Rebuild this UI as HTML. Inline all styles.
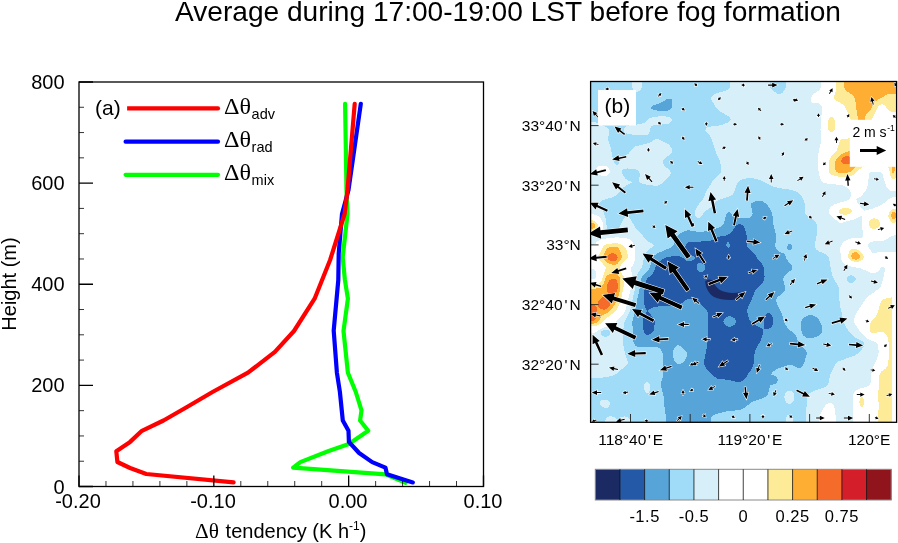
<!DOCTYPE html>
<html><head><meta charset="utf-8"><title>fig</title>
<style>html,body{margin:0;padding:0;background:#fff;overflow:hidden}svg{display:block;will-change:transform}text{fill:#000}</style></head>
<body><svg width="898" height="543" viewBox="0 0 898 543">
<defs><clipPath id="mc"><rect x="590.6" y="81.5" width="306.0" height="340.8"/></clipPath></defs>
<rect width="898" height="543" fill="#fff"/>
<g><polyline points="345.1,103.8 346.5,190.0 347.5,214.0 342.7,257.3 344.9,280.0 347.9,298.7 343.5,331.0 347.9,372.7 355.8,392.0 361.5,410.4 360.1,420.5 368.2,430.7 348.9,443.9 328.7,451.0 300.3,462.1 293.2,467.6 385.4,474.3 405.7,482.8" fill="none" stroke="#00ff00" stroke-width="4.2" stroke-linejoin="round" stroke-linecap="round"/>
<polyline points="360.8,103.8 348.5,190.0 342.0,214.0 338.7,253.7 338.3,280.0 333.7,330.6 336.9,372.7 339.9,392.0 342.8,420.5 348.5,430.7 348.9,441.8 359.1,453.0 372.2,462.1 385.4,467.6 387.0,474.3 412.8,482.4" fill="none" stroke="#0000ff" stroke-width="4.2" stroke-linejoin="round" stroke-linecap="round"/>
<polyline points="354.7,103.8 347.5,190.0 344.6,214.0 330.1,260.0 314.6,298.7 294.0,331.0 274.9,351.9 248.0,372.7 212.5,392.0 187.0,407.0 163.5,420.5 141.9,430.8 130.1,441.9 116.3,451.3 117.4,462.0 130.1,468.0 146.3,474.0 233.6,482.4" fill="none" stroke="#ff0000" stroke-width="4.2" stroke-linejoin="round" stroke-linecap="round"/>
<path d="M125.6 108.4H218" stroke="#ff0000" stroke-width="4.2" stroke-linecap="round" fill="none"/>
<rect x="87.8" y="91.4" width="39.3" height="35.6" fill="#fff"/>
<path d="M125.6 141.7H218" stroke="#0000ff" stroke-width="4.2" stroke-linecap="round" fill="none"/>
<path d="M125.6 174.8H218" stroke="#00ff00" stroke-width="4.2" stroke-linecap="round" fill="none"/>
<rect x="79.0" y="82.0" width="404.5" height="404.5" fill="none" stroke="#000" stroke-width="1.3"/>
<path d="M79.0 486.50h14M79.0 385.38h14M79.0 284.25h14M79.0 183.12h14M79.0 82.00h14M79.00 486.5v-11M213.83 486.5v-11M348.67 486.5v-11M483.50 486.5v-11" stroke="#000" stroke-width="1.3" fill="none"/>
<path d="M79.0 461.22h5M79.0 435.94h5M79.0 410.66h5M79.0 360.09h5M79.0 334.81h5M79.0 309.53h5M79.0 258.97h5M79.0 233.69h5M79.0 208.41h5M79.0 157.84h5M79.0 132.56h5M79.0 107.28h5M105.97 486.5v-5.5M132.93 486.5v-5.5M159.90 486.5v-5.5M186.87 486.5v-5.5M240.80 486.5v-5.5M267.77 486.5v-5.5M294.73 486.5v-5.5M321.70 486.5v-5.5M375.63 486.5v-5.5M402.60 486.5v-5.5M429.57 486.5v-5.5M456.53 486.5v-5.5" stroke="#000" stroke-width="0.8" fill="none"/>
<text x="64.6" y="88.7" text-anchor="end" font-size="20" font-family="Liberation Sans, sans-serif">800</text>
<text x="64.6" y="189.9" text-anchor="end" font-size="20" font-family="Liberation Sans, sans-serif">600</text>
<text x="64.6" y="291.2" text-anchor="end" font-size="20" font-family="Liberation Sans, sans-serif">400</text>
<text x="64.6" y="392.4" text-anchor="end" font-size="20" font-family="Liberation Sans, sans-serif">200</text>
<text x="64.6" y="493.7" text-anchor="end" font-size="20" font-family="Liberation Sans, sans-serif">0</text>
<text x="78.0" y="508.2" text-anchor="middle" font-size="20" font-family="Liberation Sans, sans-serif">-0.20</text>
<text x="213.0" y="508.2" text-anchor="middle" font-size="20" font-family="Liberation Sans, sans-serif">-0.10</text>
<text x="348.0" y="508.2" text-anchor="middle" font-size="20" font-family="Liberation Sans, sans-serif">0.00</text>
<text x="483.0" y="508.2" text-anchor="middle" font-size="20" font-family="Liberation Sans, sans-serif">0.10</text>
<text transform="translate(16.3 284) rotate(-90)" text-anchor="middle" font-size="20" font-family="Liberation Sans, sans-serif">Height (m)</text>
<text x="195" y="538" font-size="21" textLength="24" lengthAdjust="spacingAndGlyphs" font-family="Liberation Serif, serif">Δθ</text><text x="225.6" y="538" font-size="20" font-family="Liberation Sans, sans-serif">tendency (K h<tspan font-size="12" dy="-8">-1</tspan><tspan dy="8">)</tspan></text>
<text x="95" y="115" font-size="21" font-family="Liberation Sans, sans-serif">(a)</text>
<text x="224" y="114.4" font-size="22.5" textLength="27" lengthAdjust="spacingAndGlyphs" font-family="Liberation Serif, serif">Δθ</text>
<text x="251.6" y="119.0" font-size="14.5" font-family="Liberation Sans, sans-serif">adv</text>
<text x="224" y="147.4" font-size="22.5" textLength="27" lengthAdjust="spacingAndGlyphs" font-family="Liberation Serif, serif">Δθ</text>
<text x="251.6" y="152.0" font-size="14.5" font-family="Liberation Sans, sans-serif">rad</text>
<text x="224" y="180.4" font-size="22.5" textLength="27" lengthAdjust="spacingAndGlyphs" font-family="Liberation Serif, serif">Δθ</text>
<text x="251.6" y="185.0" font-size="14.5" font-family="Liberation Sans, sans-serif">mix</text>
<text x="175" y="21.3" font-size="28" textLength="666" lengthAdjust="spacingAndGlyphs" font-family="Liberation Sans, sans-serif">Average during 17:00-19:00 LST before fog formation</text></g>
<g clip-path="url(#mc)"><g transform="translate(591 82)" shape-rendering="crispEdges" stroke-width="1" fill="none"><rect x="0" y="0" width="306" height="341" fill="#a0dcf7"/>
<path stroke="#2459a8" d="M147 142.5h3M145 143.5h7M144 144.5h9M144 145.5h9M143 146.5h11M142 147.5h12M142 148.5h12M141 149.5h14M140 150.5h15M139 151.5h16M137 152.5h18M135 153.5h21M129 154.5h27M126 155.5h30M125 156.5h31M123 157.5h33M120 158.5h36M110 159.5h46M97 160.5h39M138 160.5h18M96 161.5h40M138 161.5h18M95 162.5h40M139 162.5h17M95 163.5h40M139 163.5h17M94 164.5h42M139 164.5h17M94 165.5h43M138 165.5h19M94 166.5h64M94 167.5h65M95 168.5h65M95 169.5h66M96 170.5h66M97 171.5h66M99 172.5h65M101 173.5h64M80 174.5h9M103 174.5h62M75 175.5h16M104 175.5h62M73 176.5h20M104 176.5h62M71 177.5h23M103 177.5h64M70 178.5h25M101 178.5h67M68 179.5h101M67 180.5h103M66 181.5h41M111 181.5h60M66 182.5h40M113 182.5h58M65 183.5h41M114 183.5h58M65 184.5h41M114 184.5h58M64 185.5h42M114 185.5h59M64 186.5h42M114 186.5h59M64 187.5h42M114 187.5h59M63 188.5h44M113 188.5h60M63 189.5h45M112 189.5h61M62 190.5h111M62 191.5h111M61 192.5h112M60 193.5h113M59 194.5h115M57 195.5h116M56 196.5h117M56 197.5h117M55 198.5h118M55 199.5h117M55 200.5h117M55 201.5h116M54 202.5h116M54 203.5h115M54 204.5h114M54 205.5h113M54 206.5h112M54 207.5h111M53 208.5h111M53 209.5h111M53 210.5h110M53 211.5h110M53 212.5h110M53 213.5h109M53 214.5h109M53 215.5h108M53 216.5h108M53 217.5h43M103 217.5h58M53 218.5h41M106 218.5h54M53 219.5h40M107 219.5h53M53 220.5h39M108 220.5h51M53 221.5h37M109 221.5h50M53 222.5h34M110 222.5h48M54 223.5h29M111 223.5h47M54 224.5h13M112 224.5h45M54 225.5h8M113 225.5h44M55 226.5h5M114 226.5h43M55 227.5h3M115 227.5h41M56 228.5h1M116 228.5h40M56 229.5h1M116 229.5h40M55 230.5h3M117 230.5h39M55 231.5h4M117 231.5h40M176 231.5h3M54 232.5h6M117 232.5h40M175 232.5h5M54 233.5h6M117 233.5h40M174 233.5h7M53 234.5h8M117 234.5h20M140 234.5h17M174 234.5h7M53 235.5h9M117 235.5h18M142 235.5h16M173 235.5h9M52 236.5h10M117 236.5h17M144 236.5h14M173 236.5h9M52 237.5h11M117 237.5h16M144 237.5h14M173 237.5h9M52 238.5h12M117 238.5h16M145 238.5h14M173 238.5h9M52 239.5h12M117 239.5h15M145 239.5h15M173 239.5h9M52 240.5h12M117 240.5h16M145 240.5h16M173 240.5h9M52 241.5h12M117 241.5h16M144 241.5h18M173 241.5h9M52 242.5h12M117 242.5h17M144 242.5h20M173 242.5h9M52 243.5h11M117 243.5h18M142 243.5h23M173 243.5h8M52 244.5h11M117 244.5h20M140 244.5h27M173 244.5h8M52 245.5h11M117 245.5h52M173 245.5h7M52 246.5h11M117 246.5h54M173 246.5h5M52 247.5h11M117 247.5h55M53 248.5h10M117 248.5h55M53 249.5h9M117 249.5h55M53 250.5h8M117 250.5h55M54 251.5h6M117 251.5h55M55 252.5h3M117 252.5h55M117 253.5h54M117 254.5h54M117 255.5h54M117 256.5h53M117 257.5h53M117 258.5h53M117 259.5h52M116 260.5h53M116 261.5h52M116 262.5h51M116 263.5h51M116 264.5h50M116 265.5h50M116 266.5h49M115 267.5h50M115 268.5h49M115 269.5h49M115 270.5h49M115 271.5h49M114 272.5h49M114 273.5h49M114 274.5h49M114 275.5h49M114 276.5h49M113 277.5h50M113 278.5h50M113 279.5h50M113 280.5h50M113 281.5h50M113 282.5h49M114 283.5h48M114 284.5h48M115 285.5h46M115 286.5h46M116 287.5h44M117 288.5h43M118 289.5h41M119 290.5h39M120 291.5h37M121 292.5h36M122 293.5h34M123 294.5h33M125 295.5h30M126 296.5h28M134 297.5h19M140 298.5h12M144 299.5h6"/>
<path stroke="#57a4d8" d="M75 17.5h6M74 18.5h7M72 19.5h9M70 20.5h11M68 21.5h13M65 22.5h16M62 23.5h19M61 24.5h20M60 25.5h21M60 26.5h20M62 27.5h17M66 28.5h11M164 119.5h8M162 120.5h11M160 121.5h15M160 122.5h16M160 123.5h17M160 124.5h17M160 125.5h18M161 126.5h18M161 127.5h18M161 128.5h19M161 129.5h19M137 130.5h2M161 130.5h20M136 131.5h4M162 131.5h19M135 132.5h6M161 132.5h20M135 133.5h7M161 133.5h20M135 134.5h8M160 134.5h22M134 135.5h13M159 135.5h23M134 136.5h48M134 137.5h48M134 138.5h48M133 139.5h49M133 140.5h49M133 141.5h49M132 142.5h15M150 142.5h32M131 143.5h14M152 143.5h31M130 144.5h14M153 144.5h30M128 145.5h16M153 145.5h30M125 146.5h18M154 146.5h29M122 147.5h20M154 147.5h30M96 148.5h3M119 148.5h23M154 148.5h30M93 149.5h12M113 149.5h28M155 149.5h29M91 150.5h49M155 150.5h29M89 151.5h50M155 151.5h30M88 152.5h49M155 152.5h30M87 153.5h48M156 153.5h29M86 154.5h43M156 154.5h29M85 155.5h41M156 155.5h29M85 156.5h40M156 156.5h29M84 157.5h39M156 157.5h29M84 158.5h36M156 158.5h29M84 159.5h26M156 159.5h29M83 160.5h14M136 160.5h2M156 160.5h29M83 161.5h13M136 161.5h2M156 161.5h28M83 162.5h12M135 162.5h4M156 162.5h28M197 162.5h3M82 163.5h13M135 163.5h4M156 163.5h28M197 163.5h4M81 164.5h13M136 164.5h3M156 164.5h28M196 164.5h5M80 165.5h14M137 165.5h1M157 165.5h28M196 165.5h5M78 166.5h16M158 166.5h27M196 166.5h5M75 167.5h19M159 167.5h27M197 167.5h3M73 168.5h22M160 168.5h27M71 169.5h24M161 169.5h27M68 170.5h28M162 170.5h28M66 171.5h31M163 171.5h30M65 172.5h34M164 172.5h30M63 173.5h38M165 173.5h29M63 174.5h17M89 174.5h14M165 174.5h30M62 175.5h13M91 175.5h13M166 175.5h29M61 176.5h12M93 176.5h11M166 176.5h29M61 177.5h10M94 177.5h9M167 177.5h29M61 178.5h9M95 178.5h6M168 178.5h29M60 179.5h8M169 179.5h28M60 180.5h7M170 180.5h28M60 181.5h6M107 181.5h4M171 181.5h28M60 182.5h6M106 182.5h7M171 182.5h29M59 183.5h6M106 183.5h8M172 183.5h29M59 184.5h6M106 184.5h8M172 184.5h29M59 185.5h5M106 185.5h8M173 185.5h28M58 186.5h6M106 186.5h8M173 186.5h28M58 187.5h6M106 187.5h8M173 187.5h28M57 188.5h6M107 188.5h6M173 188.5h27M56 189.5h7M108 189.5h4M173 189.5h25M55 190.5h7M173 190.5h24M54 191.5h8M173 191.5h23M53 192.5h8M173 192.5h22M52 193.5h8M173 193.5h21M51 194.5h8M174 194.5h19M51 195.5h6M173 195.5h20M50 196.5h6M173 196.5h19M50 197.5h6M173 197.5h19M50 198.5h5M173 198.5h19M50 199.5h5M172 199.5h21M49 200.5h6M172 200.5h21M49 201.5h6M171 201.5h22M49 202.5h5M170 202.5h23M49 203.5h5M169 203.5h25M49 204.5h5M168 204.5h26M49 205.5h5M167 205.5h27M49 206.5h5M166 206.5h28M48 207.5h6M165 207.5h29M48 208.5h5M164 208.5h30M48 209.5h5M164 209.5h29M48 210.5h5M163 210.5h29M48 211.5h5M163 211.5h28M47 212.5h6M163 212.5h27M47 213.5h6M162 213.5h27M47 214.5h6M162 214.5h25M47 215.5h6M161 215.5h25M46 216.5h7M161 216.5h25M46 217.5h7M96 217.5h7M161 217.5h24M46 218.5h7M94 218.5h12M160 218.5h25M46 219.5h7M93 219.5h14M160 219.5h25M46 220.5h7M92 220.5h16M159 220.5h27M45 221.5h8M90 221.5h19M159 221.5h27M45 222.5h8M87 222.5h23M158 222.5h28M45 223.5h9M83 223.5h28M158 223.5h29M45 224.5h9M67 224.5h45M157 224.5h30M45 225.5h9M62 225.5h51M157 225.5h31M44 226.5h11M60 226.5h54M157 226.5h31M44 227.5h11M58 227.5h57M156 227.5h33M44 228.5h12M57 228.5h59M156 228.5h33M44 229.5h12M57 229.5h59M156 229.5h34M44 230.5h11M58 230.5h59M156 230.5h34M43 231.5h12M59 231.5h58M157 231.5h19M179 231.5h12M43 232.5h11M60 232.5h57M157 232.5h18M180 232.5h11M43 233.5h11M60 233.5h57M157 233.5h17M181 233.5h10M217 233.5h5M43 234.5h10M61 234.5h56M137 234.5h3M157 234.5h17M181 234.5h11M215 234.5h9M42 235.5h11M62 235.5h55M135 235.5h7M158 235.5h15M182 235.5h10M213 235.5h13M42 236.5h10M62 236.5h55M134 236.5h10M158 236.5h15M182 236.5h10M212 236.5h15M42 237.5h10M63 237.5h54M133 237.5h11M158 237.5h15M182 237.5h10M211 237.5h17M42 238.5h10M64 238.5h53M133 238.5h12M159 238.5h14M182 238.5h11M211 238.5h17M41 239.5h11M64 239.5h53M132 239.5h13M160 239.5h13M182 239.5h11M210 239.5h19M41 240.5h11M64 240.5h53M133 240.5h12M161 240.5h12M182 240.5h11M210 240.5h19M41 241.5h11M64 241.5h53M133 241.5h11M162 241.5h11M182 241.5h12M210 241.5h20M41 242.5h11M64 242.5h53M134 242.5h10M164 242.5h9M182 242.5h12M210 242.5h20M41 243.5h11M63 243.5h54M135 243.5h7M165 243.5h8M181 243.5h14M210 243.5h21M42 244.5h10M63 244.5h54M137 244.5h3M167 244.5h6M181 244.5h15M210 244.5h21M42 245.5h10M63 245.5h54M169 245.5h4M180 245.5h16M210 245.5h21M42 246.5h10M63 246.5h54M171 246.5h2M178 246.5h19M210 246.5h21M42 247.5h10M63 247.5h54M172 247.5h26M210 247.5h21M42 248.5h11M63 248.5h54M172 248.5h27M210 248.5h21M42 249.5h11M62 249.5h55M172 249.5h29M211 249.5h20M42 250.5h11M61 250.5h56M172 250.5h30M211 250.5h20M42 251.5h12M60 251.5h57M172 251.5h31M211 251.5h19M42 252.5h13M58 252.5h59M172 252.5h32M212 252.5h17M42 253.5h75M171 253.5h34M212 253.5h16M42 254.5h75M171 254.5h34M214 254.5h12M42 255.5h75M171 255.5h35M215 255.5h8M42 256.5h75M170 256.5h36M42 257.5h75M170 257.5h36M42 258.5h75M170 258.5h37M42 259.5h75M169 259.5h38M43 260.5h73M169 260.5h38M43 261.5h73M168 261.5h40M44 262.5h72M167 262.5h42M44 263.5h42M88 263.5h28M167 263.5h43M46 264.5h39M90 264.5h26M166 264.5h45M67 265.5h17M91 265.5h25M166 265.5h46M69 266.5h14M92 266.5h24M165 266.5h48M70 267.5h13M93 267.5h22M165 267.5h49M70 268.5h12M94 268.5h21M164 268.5h51M71 269.5h11M95 269.5h20M164 269.5h51M71 270.5h11M96 270.5h19M164 270.5h52M72 271.5h10M96 271.5h19M164 271.5h52M72 272.5h10M96 272.5h18M163 272.5h53M72 273.5h10M96 273.5h18M163 273.5h52M72 274.5h10M96 274.5h18M163 274.5h52M72 275.5h10M95 275.5h19M163 275.5h52M72 276.5h11M95 276.5h19M163 276.5h51M72 277.5h11M94 277.5h19M163 277.5h51M72 278.5h11M94 278.5h19M163 278.5h51M72 279.5h12M93 279.5h20M163 279.5h51M72 280.5h13M92 280.5h21M163 280.5h50M72 281.5h14M90 281.5h23M163 281.5h50M72 282.5h41M162 282.5h50M72 283.5h42M162 283.5h34M202 283.5h10M72 284.5h42M162 284.5h31M204 284.5h7M72 285.5h43M161 285.5h29M206 285.5h4M72 286.5h43M161 286.5h26M72 287.5h44M160 287.5h25M72 288.5h45M160 288.5h24M72 289.5h46M159 289.5h23M72 290.5h47M158 290.5h23M72 291.5h48M157 291.5h24M72 292.5h49M157 292.5h23M72 293.5h50M156 293.5h27M72 294.5h51M156 294.5h29M72 295.5h53M155 295.5h31M71 296.5h55M154 296.5h32M71 297.5h63M153 297.5h34M71 298.5h69M152 298.5h35M70 299.5h74M150 299.5h36M70 300.5h116M70 301.5h115M70 302.5h112M70 303.5h109M70 304.5h109M70 305.5h109M71 306.5h107M71 307.5h107M71 308.5h107M71 309.5h107M72 310.5h105M72 311.5h105M72 312.5h105M72 313.5h104M73 314.5h102M73 315.5h100M73 316.5h98M73 317.5h95M73 318.5h92M73 319.5h89M73 320.5h87M73 321.5h86M73 322.5h85M73 323.5h83M73 324.5h82M74 325.5h80M74 326.5h78M74 327.5h76M74 328.5h70M74 329.5h61M74 330.5h57M74 331.5h53M75 332.5h49M75 333.5h47M75 334.5h46M75 335.5h45M75 336.5h45M75 337.5h45M75 338.5h45M75 339.5h45M75 340.5h45"/>
<path stroke="#d6eff9" d="M41 0.5h10M139 0.5h40M195 0.5h35M41 1.5h10M139 1.5h40M195 1.5h35M41 2.5h10M139 2.5h40M195 2.5h35M41 3.5h10M139 3.5h40M195 3.5h35M41 4.5h10M139 4.5h40M195 4.5h35M41 5.5h10M139 5.5h40M195 5.5h35M42 6.5h8M138 6.5h42M194 6.5h35M42 7.5h8M137 7.5h44M194 7.5h35M43 8.5h6M135 8.5h47M193 8.5h35M44 9.5h3M132 9.5h51M192 9.5h34M128 10.5h57M192 10.5h33M125 11.5h61M190 11.5h33M123 12.5h99M122 13.5h99M121 14.5h100M120 15.5h100M120 16.5h100M120 17.5h100M121 18.5h99M121 19.5h99M122 20.5h99M123 21.5h105M123 22.5h106M124 23.5h106M124 24.5h107M125 25.5h106M126 26.5h105M127 27.5h104M128 28.5h103M129 29.5h102M131 30.5h100M133 31.5h98M134 32.5h97M136 33.5h94M67 34.5h8M138 34.5h92M61 35.5h18M139 35.5h91M58 36.5h22M139 36.5h91M57 37.5h24M140 37.5h90M56 38.5h25M139 38.5h91M55 39.5h25M138 39.5h92M0 40.5h5M54 40.5h25M137 40.5h93M0 41.5h8M51 41.5h27M134 41.5h96M0 42.5h10M46 42.5h24M132 42.5h98M0 43.5h12M38 43.5h24M128 43.5h102M0 44.5h14M35 44.5h25M120 44.5h110M0 45.5h16M34 45.5h26M116 45.5h114M0 46.5h17M33 46.5h26M115 46.5h115M0 47.5h18M33 47.5h26M115 47.5h114M0 48.5h18M33 48.5h26M114 48.5h116M0 49.5h18M33 49.5h26M115 49.5h115M0 50.5h18M34 50.5h24M116 50.5h114M0 51.5h18M36 51.5h22M117 51.5h113M0 52.5h18M41 52.5h16M118 52.5h112M0 53.5h18M119 53.5h111M0 54.5h17M119 54.5h111M0 55.5h17M120 55.5h110M0 56.5h17M120 56.5h110M0 57.5h17M64 57.5h4M121 57.5h109M0 58.5h17M62 58.5h8M121 58.5h109M0 59.5h18M61 59.5h11M121 59.5h109M0 60.5h18M59 60.5h15M122 60.5h108M0 61.5h18M56 61.5h20M122 61.5h108M0 62.5h19M52 62.5h26M122 62.5h107M0 63.5h19M48 63.5h31M123 63.5h106M0 64.5h19M44 64.5h35M123 64.5h106M0 65.5h20M43 65.5h37M123 65.5h106M0 66.5h20M42 66.5h39M124 66.5h104M0 67.5h20M41 67.5h40M124 67.5h104M0 68.5h20M40 68.5h41M124 68.5h104M0 69.5h20M39 69.5h42M125 69.5h103M0 70.5h21M38 70.5h43M125 70.5h103M0 71.5h21M38 71.5h42M125 71.5h102M0 72.5h21M36 72.5h43M126 72.5h101M0 73.5h21M35 73.5h43M126 73.5h101M0 74.5h21M33 74.5h43M127 74.5h100M0 75.5h22M32 75.5h43M127 75.5h100M0 76.5h22M31 76.5h43M128 76.5h99M0 77.5h22M30 77.5h43M128 77.5h99M0 78.5h22M29 78.5h43M129 78.5h98M0 79.5h23M29 79.5h43M129 79.5h98M0 80.5h23M28 80.5h44M129 80.5h98M0 81.5h24M28 81.5h44M129 81.5h98M0 82.5h25M27 82.5h46M130 82.5h97M0 83.5h73M130 83.5h97M0 84.5h7M16 84.5h58M130 84.5h97M0 85.5h6M17 85.5h58M130 85.5h97M0 86.5h5M18 86.5h18M37 86.5h40M130 86.5h97M0 87.5h5M18 87.5h14M45 87.5h33M130 87.5h97M0 88.5h5M19 88.5h12M47 88.5h32M130 88.5h97M0 89.5h5M19 89.5h12M48 89.5h31M130 89.5h98M0 90.5h5M19 90.5h12M48 90.5h32M130 90.5h98M279 90.5h11M0 91.5h6M18 91.5h13M49 91.5h31M129 91.5h99M278 91.5h13M0 92.5h8M17 92.5h15M49 92.5h30M128 92.5h100M278 92.5h14M0 93.5h10M16 93.5h16M49 93.5h30M127 93.5h101M278 93.5h14M0 94.5h33M49 94.5h29M126 94.5h103M278 94.5h14M0 95.5h34M48 95.5h29M125 95.5h104M278 95.5h14M0 96.5h34M48 96.5h28M124 96.5h31M163 96.5h66M278 96.5h15M0 97.5h36M48 97.5h27M123 97.5h28M167 97.5h63M277 97.5h16M0 98.5h37M48 98.5h26M122 98.5h27M170 98.5h60M277 98.5h16M0 99.5h40M48 99.5h25M121 99.5h27M172 99.5h59M277 99.5h17M0 100.5h41M49 100.5h23M121 100.5h26M174 100.5h58M277 100.5h17M0 101.5h39M51 101.5h20M120 101.5h26M176 101.5h60M277 101.5h17M0 102.5h37M55 102.5h14M120 102.5h26M178 102.5h67M277 102.5h18M0 103.5h35M62 103.5h5M119 103.5h26M180 103.5h72M277 103.5h18M0 104.5h34M118 104.5h27M182 104.5h72M276 104.5h19M0 105.5h32M118 105.5h27M186 105.5h70M276 105.5h20M0 106.5h31M117 106.5h27M191 106.5h66M276 106.5h21M0 107.5h30M116 107.5h28M198 107.5h60M275 107.5h23M0 108.5h30M116 108.5h28M202 108.5h57M275 108.5h24M0 109.5h29M115 109.5h28M205 109.5h54M274 109.5h32M0 110.5h28M115 110.5h28M207 110.5h53M273 110.5h33M0 111.5h27M114 111.5h28M208 111.5h52M272 111.5h34M0 112.5h26M114 112.5h28M209 112.5h51M272 112.5h34M0 113.5h25M114 113.5h26M210 113.5h50M271 113.5h35M0 114.5h23M113 114.5h25M211 114.5h49M270 114.5h36M0 115.5h21M113 115.5h22M211 115.5h48M268 115.5h33M0 116.5h17M112 116.5h20M212 116.5h47M266 116.5h33M0 117.5h14M112 117.5h17M212 117.5h46M265 117.5h32M0 118.5h11M111 118.5h16M213 118.5h43M266 118.5h30M0 119.5h10M110 119.5h15M213 119.5h40M266 119.5h29M0 120.5h9M109 120.5h15M213 120.5h36M266 120.5h28M0 121.5h8M108 121.5h15M214 121.5h32M267 121.5h25M0 122.5h8M108 122.5h14M214 122.5h29M268 122.5h23M0 123.5h8M107 123.5h14M214 123.5h28M269 123.5h20M0 124.5h9M106 124.5h15M214 124.5h26M269 124.5h18M0 125.5h10M106 125.5h14M214 125.5h25M270 125.5h14M0 126.5h10M105 126.5h13M214 126.5h25M271 126.5h11M0 127.5h11M105 127.5h12M214 127.5h24M272 127.5h6M0 128.5h12M104 128.5h11M214 128.5h24M273 128.5h1M0 129.5h12M104 129.5h10M214 129.5h24M0 130.5h13M104 130.5h9M214 130.5h24M0 131.5h13M104 131.5h8M214 131.5h24M3 132.5h10M104 132.5h8M215 132.5h24M6 133.5h8M104 133.5h7M216 133.5h24M8 134.5h6M35 134.5h2M105 134.5h5M217 134.5h24M269 134.5h2M9 135.5h5M34 135.5h4M106 135.5h3M218 135.5h24M267 135.5h4M10 136.5h5M33 136.5h6M220 136.5h23M265 136.5h6M10 137.5h5M32 137.5h8M222 137.5h22M263 137.5h8M11 138.5h4M32 138.5h8M223 138.5h23M259 138.5h12M11 139.5h4M31 139.5h10M224 139.5h23M255 139.5h16M12 140.5h3M31 140.5h10M225 140.5h23M252 140.5h19M12 141.5h3M30 141.5h12M225 141.5h46M12 142.5h3M30 142.5h13M226 142.5h45M12 143.5h4M29 143.5h14M226 143.5h45M12 144.5h4M29 144.5h15M226 144.5h45M12 145.5h4M28 145.5h16M226 145.5h45M12 146.5h4M27 146.5h18M226 146.5h45M11 147.5h5M24 147.5h22M226 147.5h45M11 148.5h6M19 148.5h28M226 148.5h46M10 149.5h38M226 149.5h46M9 150.5h40M226 150.5h46M8 151.5h42M226 151.5h46M6 152.5h45M226 152.5h46M3 153.5h49M226 153.5h46M303 153.5h3M0 154.5h52M225 154.5h47M300 154.5h6M0 155.5h24M28 155.5h25M225 155.5h46M298 155.5h8M0 156.5h15M36 156.5h18M225 156.5h35M297 156.5h9M0 157.5h10M39 157.5h16M225 157.5h32M295 157.5h11M0 158.5h8M40 158.5h16M225 158.5h30M293 158.5h13M0 159.5h6M41 159.5h16M224 159.5h29M282 159.5h24M0 160.5h5M42 160.5h17M224 160.5h28M279 160.5h27M0 161.5h5M42 161.5h19M224 161.5h27M278 161.5h28M0 162.5h3M43 162.5h19M224 162.5h27M277 162.5h29M43 163.5h20M224 163.5h26M277 163.5h29M44 164.5h18M224 164.5h26M277 164.5h29M44 165.5h17M224 165.5h25M278 165.5h28M44 166.5h15M225 166.5h24M278 166.5h28M44 167.5h14M225 167.5h24M279 167.5h27M44 168.5h13M227 168.5h22M280 168.5h26M44 169.5h12M228 169.5h21M280 169.5h26M44 170.5h11M231 170.5h18M281 170.5h5M44 171.5h11M233 171.5h17M44 172.5h10M235 172.5h15M44 173.5h10M236 173.5h14M44 174.5h10M237 174.5h13M44 175.5h9M238 175.5h12M44 176.5h9M238 176.5h12M44 177.5h9M238 177.5h12M44 178.5h8M238 178.5h13M43 179.5h9M239 179.5h12M43 180.5h9M239 180.5h13M43 181.5h9M239 181.5h14M42 182.5h10M239 182.5h15M42 183.5h9M239 183.5h17M41 184.5h10M239 184.5h21M40 185.5h11M240 185.5h25M290 185.5h3M40 186.5h10M240 186.5h30M289 186.5h5M0 187.5h3M40 187.5h9M240 187.5h32M289 187.5h5M0 188.5h4M40 188.5h9M240 188.5h35M288 188.5h6M0 189.5h5M40 189.5h8M240 189.5h37M287 189.5h7M0 190.5h5M41 190.5h6M241 190.5h38M285 190.5h8M0 191.5h5M41 191.5h6M241 191.5h52M0 192.5h5M41 192.5h5M241 192.5h52M0 193.5h5M41 193.5h5M241 193.5h18M261 193.5h32M0 194.5h5M41 194.5h5M242 194.5h15M263 194.5h30M0 195.5h5M42 195.5h4M242 195.5h14M264 195.5h28M0 196.5h4M42 196.5h3M243 196.5h13M265 196.5h27M41 197.5h4M243 197.5h13M265 197.5h27M41 198.5h4M244 198.5h12M264 198.5h28M41 199.5h4M244 199.5h13M263 199.5h28M41 200.5h4M245 200.5h13M262 200.5h29M41 201.5h4M246 201.5h45M41 202.5h4M246 202.5h44M41 203.5h3M247 203.5h43M40 204.5h4M247 204.5h43M40 205.5h4M248 205.5h41M40 206.5h4M248 206.5h40M40 207.5h4M248 207.5h39M39 208.5h5M248 208.5h37M39 209.5h4M248 209.5h36M39 210.5h4M248 210.5h35M39 211.5h4M248 211.5h33M38 212.5h5M248 212.5h32M38 213.5h4M248 213.5h30M38 214.5h4M248 214.5h29M38 215.5h4M248 215.5h28M37 216.5h5M248 216.5h27M37 217.5h5M248 217.5h26M37 218.5h4M248 218.5h26M37 219.5h4M249 219.5h24M36 220.5h5M249 220.5h23M36 221.5h5M249 221.5h23M36 222.5h4M249 222.5h22M36 223.5h4M249 223.5h21M35 224.5h5M249 224.5h21M35 225.5h5M249 225.5h20M35 226.5h5M250 226.5h18M35 227.5h4M250 227.5h18M34 228.5h5M250 228.5h17M34 229.5h5M250 229.5h16M33 230.5h5M251 230.5h15M33 231.5h5M251 231.5h14M32 232.5h5M251 232.5h14M31 233.5h6M251 233.5h13M30 234.5h6M251 234.5h13M29 235.5h7M252 235.5h12M28 236.5h7M252 236.5h11M27 237.5h8M252 237.5h11M26 238.5h8M252 238.5h11M25 239.5h9M252 239.5h11M25 240.5h8M253 240.5h10M24 241.5h9M253 241.5h11M23 242.5h10M254 242.5h10M22 243.5h11M254 243.5h11M18 244.5h15M255 244.5h11M13 245.5h20M255 245.5h11M11 246.5h21M256 246.5h11M9 247.5h23M257 247.5h11M7 248.5h5M18 248.5h14M257 248.5h11M6 249.5h4M19 249.5h13M258 249.5h11M4 250.5h6M19 250.5h13M259 250.5h11M0 251.5h10M19 251.5h13M260 251.5h11M0 252.5h10M19 252.5h13M261 252.5h11M0 253.5h11M18 253.5h14M262 253.5h11M0 254.5h13M16 254.5h16M263 254.5h11M0 255.5h32M264 255.5h11M0 256.5h32M266 256.5h10M0 257.5h32M268 257.5h10M0 258.5h32M270 258.5h10M0 259.5h32M272 259.5h11M0 260.5h32M273 260.5h12M0 261.5h32M273 261.5h13M0 262.5h32M273 262.5h14M0 263.5h32M273 263.5h14M0 264.5h33M273 264.5h14M0 265.5h33M272 265.5h15M0 266.5h33M271 266.5h16M0 267.5h33M271 267.5h16M0 268.5h33M270 268.5h18M0 269.5h34M269 269.5h19M0 270.5h34M268 270.5h20M0 271.5h34M267 271.5h20M0 272.5h34M265 272.5h22M0 273.5h35M264 273.5h23M0 274.5h35M261 274.5h26M0 275.5h35M258 275.5h28M0 276.5h36M255 276.5h31M0 277.5h36M253 277.5h33M0 278.5h36M250 278.5h35M0 279.5h37M247 279.5h38M0 280.5h37M246 280.5h38M0 281.5h37M245 281.5h39M0 282.5h36M244 282.5h39M0 283.5h35M244 283.5h39M0 284.5h34M243 284.5h39M0 285.5h33M243 285.5h39M0 286.5h32M242 286.5h40M0 287.5h30M242 287.5h39M0 288.5h29M241 288.5h40M0 289.5h28M241 289.5h40M0 290.5h27M240 290.5h41M0 291.5h26M240 291.5h40M0 292.5h24M239 292.5h41M0 293.5h22M239 293.5h41M0 294.5h18M239 294.5h41M0 295.5h12M239 295.5h41M238 296.5h42M238 297.5h42M238 298.5h42M238 299.5h42M55 300.5h2M238 300.5h42M54 301.5h4M237 301.5h42M53 302.5h6M237 302.5h42M53 303.5h6M236 303.5h42M53 304.5h6M235 304.5h41M53 305.5h6M233 305.5h40M53 306.5h6M230 306.5h39M53 307.5h6M227 307.5h40M54 308.5h5M224 308.5h41M54 309.5h4M196 309.5h5M222 309.5h42M55 310.5h3M195 310.5h7M220 310.5h43M194 311.5h9M218 311.5h45M194 312.5h9M217 312.5h45M194 313.5h9M217 313.5h45M193 314.5h10M216 314.5h46M193 315.5h10M216 315.5h46M194 316.5h9M216 316.5h46M194 317.5h9M216 317.5h46M10 318.5h7M194 318.5h9M216 318.5h46M9 319.5h9M195 319.5h7M216 319.5h46M9 320.5h10M195 320.5h6M216 320.5h46M9 321.5h10M197 321.5h3M216 321.5h21M241 321.5h21M9 322.5h10M216 322.5h19M242 322.5h20M10 323.5h8M216 323.5h18M243 323.5h19M11 324.5h7M216 324.5h18M243 324.5h19M13 325.5h4M215 325.5h18M243 325.5h19M215 326.5h17M244 326.5h18M215 327.5h17M244 327.5h18M215 328.5h16M244 328.5h18M215 329.5h16M244 329.5h18M215 330.5h15M244 330.5h18M215 331.5h15M244 331.5h18M215 332.5h14M244 332.5h18M196 333.5h4M215 333.5h14M245 333.5h17M18 334.5h3M33 334.5h1M196 334.5h5M215 334.5h14M245 334.5h17M16 335.5h8M30 335.5h7M195 335.5h7M215 335.5h13M245 335.5h17M15 336.5h10M29 336.5h9M195 336.5h7M215 336.5h13M245 336.5h17M15 337.5h11M27 337.5h12M195 337.5h7M215 337.5h13M245 337.5h17M14 338.5h25M195 338.5h7M215 338.5h13M245 338.5h17M14 339.5h25M195 339.5h7M215 339.5h13M245 339.5h17M15 340.5h24M195 340.5h7M215 340.5h13M245 340.5h17"/>
<path stroke="#ffffff" d="M230 0.5h15M230 1.5h15M230 2.5h15M230 3.5h15M230 4.5h15M230 5.5h15M229 6.5h16M229 7.5h16M228 8.5h17M226 9.5h19M225 10.5h19M223 11.5h21M222 12.5h22M221 13.5h22M221 14.5h22M220 15.5h23M220 16.5h23M220 17.5h24M220 18.5h25M220 19.5h27M221 20.5h28M228 21.5h22M229 22.5h23M290 22.5h2M230 23.5h23M288 23.5h6M231 24.5h23M287 24.5h8M231 25.5h23M287 25.5h8M231 26.5h24M286 26.5h10M231 27.5h24M286 27.5h11M231 28.5h25M285 28.5h13M231 29.5h25M285 29.5h15M231 30.5h26M284 30.5h22M231 31.5h26M284 31.5h22M231 32.5h27M283 32.5h23M230 33.5h28M283 33.5h23M230 34.5h29M282 34.5h24M230 35.5h9M242 35.5h17M282 35.5h24M230 36.5h8M243 36.5h16M281 36.5h25M230 37.5h8M243 37.5h17M281 37.5h25M230 38.5h7M244 38.5h16M281 38.5h25M230 39.5h7M244 39.5h16M282 39.5h24M230 40.5h7M244 40.5h16M282 40.5h24M230 41.5h7M244 41.5h16M283 41.5h23M230 42.5h7M244 42.5h16M284 42.5h22M230 43.5h7M244 43.5h16M285 43.5h21M230 44.5h7M244 44.5h16M288 44.5h18M230 45.5h7M244 45.5h16M296 45.5h10M230 46.5h7M244 46.5h16M229 47.5h8M244 47.5h16M230 48.5h8M243 48.5h17M230 49.5h9M242 49.5h18M230 50.5h30M230 51.5h30M230 52.5h30M230 53.5h30M230 54.5h30M230 55.5h29M230 56.5h27M230 57.5h20M230 58.5h19M230 59.5h19M230 60.5h18M230 61.5h18M229 62.5h19M229 63.5h18M229 64.5h18M229 65.5h18M228 66.5h18M228 67.5h18M228 68.5h18M228 69.5h17M228 70.5h16M227 71.5h16M227 72.5h15M227 73.5h14M227 74.5h13M227 75.5h13M227 76.5h12M227 77.5h12M227 78.5h11M227 79.5h11M227 80.5h11M227 81.5h11M227 82.5h11M278 82.5h16M227 83.5h11M276 83.5h20M7 84.5h9M227 84.5h11M274 84.5h23M6 85.5h11M227 85.5h11M271 85.5h26M5 86.5h13M227 86.5h11M270 86.5h28M5 87.5h5M13 87.5h5M227 87.5h11M268 87.5h30M5 88.5h5M14 88.5h5M227 88.5h11M267 88.5h31M5 89.5h5M13 89.5h6M228 89.5h10M266 89.5h33M5 90.5h14M228 90.5h10M265 90.5h14M290 90.5h9M6 91.5h12M228 91.5h11M264 91.5h14M291 91.5h8M8 92.5h9M228 92.5h12M263 92.5h15M292 92.5h7M10 93.5h6M228 93.5h15M261 93.5h17M292 93.5h7M229 94.5h18M256 94.5h22M292 94.5h8M305 94.5h1M229 95.5h49M292 95.5h8M305 95.5h1M229 96.5h49M293 96.5h8M304 96.5h2M230 97.5h47M293 97.5h13M230 98.5h47M293 98.5h13M231 99.5h46M294 99.5h12M232 100.5h45M294 100.5h12M236 101.5h41M294 101.5h12M245 102.5h32M295 102.5h11M252 103.5h25M295 103.5h11M254 104.5h22M295 104.5h11M256 105.5h20M296 105.5h10M257 106.5h19M297 106.5h9M258 107.5h17M298 107.5h8M259 108.5h16M299 108.5h7M259 109.5h15M260 110.5h13M260 111.5h12M260 112.5h12M260 113.5h11M260 114.5h10M259 115.5h9M301 115.5h5M259 116.5h7M299 116.5h7M258 117.5h7M297 117.5h9M256 118.5h10M296 118.5h10M253 119.5h13M295 119.5h11M249 120.5h17M294 120.5h12M246 121.5h21M292 121.5h14M243 122.5h25M291 122.5h15M242 123.5h27M289 123.5h17M240 124.5h29M287 124.5h19M239 125.5h31M284 125.5h22M239 126.5h12M258 126.5h13M282 126.5h24M238 127.5h11M260 127.5h12M278 127.5h23M305 127.5h1M238 128.5h10M261 128.5h12M274 128.5h26M238 129.5h10M261 129.5h38M238 130.5h10M260 130.5h38M238 131.5h11M259 131.5h39M0 132.5h3M239 132.5h13M256 132.5h42M0 133.5h6M240 133.5h57M0 134.5h8M241 134.5h28M271 134.5h26M0 135.5h9M242 135.5h25M271 135.5h27M0 136.5h10M243 136.5h22M271 136.5h11M284 136.5h14M0 137.5h10M244 137.5h19M271 137.5h9M287 137.5h12M2 138.5h9M246 138.5h13M271 138.5h8M288 138.5h11M4 139.5h7M247 139.5h8M271 139.5h7M288 139.5h12M305 139.5h1M5 140.5h7M248 140.5h4M271 140.5h7M289 140.5h12M304 140.5h2M6 141.5h6M271 141.5h7M289 141.5h17M7 142.5h5M271 142.5h7M289 142.5h17M7 143.5h5M271 143.5h7M289 143.5h17M7 144.5h5M271 144.5h8M288 144.5h18M6 145.5h6M271 145.5h8M287 145.5h19M5 146.5h7M271 146.5h10M285 146.5h21M4 147.5h7M271 147.5h35M3 148.5h8M272 148.5h34M0 149.5h10M272 149.5h34M0 150.5h9M272 150.5h34M0 151.5h8M272 151.5h34M0 152.5h6M272 152.5h34M0 153.5h3M272 153.5h31M272 154.5h28M24 155.5h4M271 155.5h27M15 156.5h21M260 156.5h37M10 157.5h29M257 157.5h38M8 158.5h32M255 158.5h38M6 159.5h35M253 159.5h29M5 160.5h37M252 160.5h27M5 161.5h16M27 161.5h15M251 161.5h27M3 162.5h12M30 162.5h13M251 162.5h26M0 163.5h13M32 163.5h11M250 163.5h27M0 164.5h12M33 164.5h11M250 164.5h27M0 165.5h12M34 165.5h10M249 165.5h29M0 166.5h11M35 166.5h9M249 166.5h29M0 167.5h11M35 167.5h9M249 167.5h11M266 167.5h13M0 168.5h10M36 168.5h8M249 168.5h10M268 168.5h12M0 169.5h10M36 169.5h8M249 169.5h9M269 169.5h11M0 170.5h9M36 170.5h8M249 170.5h9M270 170.5h11M286 170.5h20M0 171.5h9M36 171.5h8M250 171.5h8M271 171.5h35M0 172.5h8M37 172.5h7M250 172.5h7M272 172.5h34M0 173.5h7M37 173.5h7M250 173.5h7M272 173.5h34M0 174.5h7M37 174.5h7M250 174.5h7M273 174.5h33M0 175.5h6M37 175.5h7M250 175.5h7M273 175.5h33M0 176.5h7M36 176.5h8M250 176.5h8M272 176.5h34M0 177.5h8M35 177.5h9M250 177.5h9M272 177.5h34M0 178.5h9M34 178.5h10M251 178.5h9M270 178.5h36M0 179.5h10M33 179.5h10M251 179.5h12M268 179.5h38M0 180.5h11M32 180.5h11M252 180.5h54M0 181.5h12M31 181.5h12M253 181.5h53M0 182.5h12M30 182.5h12M254 182.5h52M0 183.5h13M30 183.5h12M256 183.5h50M0 184.5h14M29 184.5h12M260 184.5h46M0 185.5h15M29 185.5h11M265 185.5h25M293 185.5h13M0 186.5h15M29 186.5h11M270 186.5h19M294 186.5h12M3 187.5h11M29 187.5h11M272 187.5h17M294 187.5h12M4 188.5h10M29 188.5h11M275 188.5h13M294 188.5h12M5 189.5h9M30 189.5h10M277 189.5h10M294 189.5h12M5 190.5h8M30 190.5h11M279 190.5h6M293 190.5h13M5 191.5h8M31 191.5h10M293 191.5h13M5 192.5h8M31 192.5h10M293 192.5h13M5 193.5h7M32 193.5h9M293 193.5h13M5 194.5h7M33 194.5h8M293 194.5h13M5 195.5h7M33 195.5h9M292 195.5h14M4 196.5h7M33 196.5h9M292 196.5h14M0 197.5h11M34 197.5h7M292 197.5h14M0 198.5h11M34 198.5h7M292 198.5h14M0 199.5h10M33 199.5h8M291 199.5h15M0 200.5h9M33 200.5h8M291 200.5h15M0 201.5h8M33 201.5h8M291 201.5h15M0 202.5h7M33 202.5h8M290 202.5h16M33 203.5h8M290 203.5h16M33 204.5h7M290 204.5h16M32 205.5h8M289 205.5h17M32 206.5h8M288 206.5h18M32 207.5h8M287 207.5h19M32 208.5h7M285 208.5h21M32 209.5h7M284 209.5h22M31 210.5h8M283 210.5h23M31 211.5h8M281 211.5h25M31 212.5h7M280 212.5h26M31 213.5h7M278 213.5h28M31 214.5h7M277 214.5h29M30 215.5h8M276 215.5h24M301 215.5h5M30 216.5h7M275 216.5h20M301 216.5h5M30 217.5h7M274 217.5h18M301 217.5h5M30 218.5h7M274 218.5h17M301 218.5h5M29 219.5h8M273 219.5h17M301 219.5h5M29 220.5h7M272 220.5h18M301 220.5h5M29 221.5h7M272 221.5h17M301 221.5h5M28 222.5h8M271 222.5h18M301 222.5h5M28 223.5h8M270 223.5h19M301 223.5h5M27 224.5h8M270 224.5h18M301 224.5h5M27 225.5h8M269 225.5h19M301 225.5h5M26 226.5h9M268 226.5h20M301 226.5h5M26 227.5h9M268 227.5h20M301 227.5h5M25 228.5h9M267 228.5h20M301 228.5h5M24 229.5h10M266 229.5h21M301 229.5h5M23 230.5h10M266 230.5h21M301 230.5h5M22 231.5h11M265 231.5h21M301 231.5h5M20 232.5h12M265 232.5h21M301 232.5h5M19 233.5h12M264 233.5h21M301 233.5h5M18 234.5h12M264 234.5h21M301 234.5h5M16 235.5h13M264 235.5h20M301 235.5h5M15 236.5h13M263 236.5h20M301 236.5h5M14 237.5h13M263 237.5h19M301 237.5h5M13 238.5h13M263 238.5h18M301 238.5h5M12 239.5h13M263 239.5h17M301 239.5h5M11 240.5h14M263 240.5h17M301 240.5h5M10 241.5h14M264 241.5h15M301 241.5h5M8 242.5h15M264 242.5h15M301 242.5h5M6 243.5h16M265 243.5h14M301 243.5h5M0 244.5h18M266 244.5h13M301 244.5h5M0 245.5h13M266 245.5h13M301 245.5h5M0 246.5h11M267 246.5h12M301 246.5h5M0 247.5h9M268 247.5h11M301 247.5h5M0 248.5h7M268 248.5h11M301 248.5h5M0 249.5h6M269 249.5h10M301 249.5h5M0 250.5h4M270 250.5h10M286 250.5h7M301 250.5h5M271 251.5h23M301 251.5h5M272 252.5h23M301 252.5h5M273 253.5h23M301 253.5h5M274 254.5h22M301 254.5h5M275 255.5h22M301 255.5h5M276 256.5h21M301 256.5h5M278 257.5h19M301 257.5h5M280 258.5h17M301 258.5h5M283 259.5h14M301 259.5h5M285 260.5h13M301 260.5h5M286 261.5h12M301 261.5h5M287 262.5h11M301 262.5h5M287 263.5h11M301 263.5h5M287 264.5h11M301 264.5h5M287 265.5h11M301 265.5h5M287 266.5h11M301 266.5h5M287 267.5h11M301 267.5h5M288 268.5h10M301 268.5h5M288 269.5h10M301 269.5h5M288 270.5h10M301 270.5h5M287 271.5h11M301 271.5h5M287 272.5h11M301 272.5h5M287 273.5h11M301 273.5h5M287 274.5h11M301 274.5h5M286 275.5h12M301 275.5h5M286 276.5h12M301 276.5h5M286 277.5h12M301 277.5h5M285 278.5h12M301 278.5h5M285 279.5h12M301 279.5h5M284 280.5h13M301 280.5h5M284 281.5h13M301 281.5h5M283 282.5h14M301 282.5h5M283 283.5h14M301 283.5h5M282 284.5h14M301 284.5h5M282 285.5h13M301 285.5h5M282 286.5h13M301 286.5h5M281 287.5h12M301 287.5h5M281 288.5h11M301 288.5h5M281 289.5h9M301 289.5h5M281 290.5h9M301 290.5h5M280 291.5h9M301 291.5h5M280 292.5h9M301 292.5h5M280 293.5h8M301 293.5h5M280 294.5h8M301 294.5h5M280 295.5h8M301 295.5h5M280 296.5h8M301 296.5h5M280 297.5h8M301 297.5h5M280 298.5h8M301 298.5h5M280 299.5h8M301 299.5h5M280 300.5h8M301 300.5h5M279 301.5h9M301 301.5h5M279 302.5h9M301 302.5h5M278 303.5h10M301 303.5h5M276 304.5h12M301 304.5h5M273 305.5h15M301 305.5h5M269 306.5h19M301 306.5h5M267 307.5h21M301 307.5h5M265 308.5h22M301 308.5h5M264 309.5h23M301 309.5h5M263 310.5h24M301 310.5h5M263 311.5h24M301 311.5h5M262 312.5h25M301 312.5h5M262 313.5h25M301 313.5h5M262 314.5h25M301 314.5h5M262 315.5h8M272 315.5h15M301 315.5h5M262 316.5h7M272 316.5h15M301 316.5h5M262 317.5h7M273 317.5h14M301 317.5h5M262 318.5h7M273 318.5h14M301 318.5h5M262 319.5h6M273 319.5h14M301 319.5h5M262 320.5h6M273 320.5h15M301 320.5h5M237 321.5h4M262 321.5h7M273 321.5h15M301 321.5h5M235 322.5h7M262 322.5h7M273 322.5h15M301 322.5h5M234 323.5h9M262 323.5h7M272 323.5h16M301 323.5h5M234 324.5h9M262 324.5h8M272 324.5h16M301 324.5h5M233 325.5h10M262 325.5h26M301 325.5h5M232 326.5h12M262 326.5h26M301 326.5h5M232 327.5h12M262 327.5h26M301 327.5h5M231 328.5h13M262 328.5h25M301 328.5h5M231 329.5h13M262 329.5h25M301 329.5h5M230 330.5h14M262 330.5h25M301 330.5h5M230 331.5h14M262 331.5h25M301 331.5h5M229 332.5h15M262 332.5h25M301 332.5h5M229 333.5h16M262 333.5h25M301 333.5h5M229 334.5h16M262 334.5h25M301 334.5h5M228 335.5h17M262 335.5h25M301 335.5h5M228 336.5h17M262 336.5h25M301 336.5h5M228 337.5h17M262 337.5h25M301 337.5h5M228 338.5h17M262 338.5h25M301 338.5h5M228 339.5h17M262 339.5h25M301 339.5h5M228 340.5h17M262 340.5h25M301 340.5h5"/>
<path stroke="#fdeb98" d="M245 0.5h8M245 1.5h8M245 2.5h8M245 3.5h8M245 4.5h8M245 5.5h8M245 6.5h9M245 7.5h9M245 8.5h10M245 9.5h11M244 10.5h14M244 11.5h15M244 12.5h17M296 12.5h10M243 13.5h19M294 13.5h12M243 14.5h20M293 14.5h13M243 15.5h20M291 15.5h15M243 16.5h21M289 16.5h17M244 17.5h20M287 17.5h19M245 18.5h19M286 18.5h20M247 19.5h17M284 19.5h22M249 20.5h16M283 20.5h23M250 21.5h15M283 21.5h23M252 22.5h13M282 22.5h8M292 22.5h14M253 23.5h12M282 23.5h6M294 23.5h12M254 24.5h11M281 24.5h6M295 24.5h11M254 25.5h11M281 25.5h6M295 25.5h11M255 26.5h10M280 26.5h6M296 26.5h10M255 27.5h10M280 27.5h6M297 27.5h9M256 28.5h10M279 28.5h6M298 28.5h8M256 29.5h10M278 29.5h7M300 29.5h6M257 30.5h9M277 30.5h7M257 31.5h9M276 31.5h8M258 32.5h8M275 32.5h8M258 33.5h8M275 33.5h8M259 34.5h8M274 34.5h8M239 35.5h3M259 35.5h8M274 35.5h8M238 36.5h5M259 36.5h8M274 36.5h7M238 37.5h5M260 37.5h7M274 37.5h7M237 38.5h7M260 38.5h8M273 38.5h8M237 39.5h7M260 39.5h8M273 39.5h9M237 40.5h7M260 40.5h9M272 40.5h10M237 41.5h7M260 41.5h23M237 42.5h7M260 42.5h24M237 43.5h7M260 43.5h25M237 44.5h7M260 44.5h28M237 45.5h7M260 45.5h36M237 46.5h7M260 46.5h46M237 47.5h7M260 47.5h46M238 48.5h5M260 48.5h46M239 49.5h3M260 49.5h46M260 50.5h46M260 51.5h46M260 52.5h46M260 53.5h46M260 54.5h46M259 55.5h47M257 56.5h49M250 57.5h56M249 58.5h57M249 59.5h57M248 60.5h58M248 61.5h58M248 62.5h58M247 63.5h59M247 64.5h22M271 64.5h35M247 65.5h19M273 65.5h33M246 66.5h18M274 66.5h32M246 67.5h16M274 67.5h32M246 68.5h13M275 68.5h31M245 69.5h12M275 69.5h31M244 70.5h10M275 70.5h31M243 71.5h9M275 71.5h31M242 72.5h8M275 72.5h31M241 73.5h8M275 73.5h31M240 74.5h8M275 74.5h31M240 75.5h7M275 75.5h31M239 76.5h7M275 76.5h31M239 77.5h6M275 77.5h31M238 78.5h7M275 78.5h31M238 79.5h6M274 79.5h32M238 80.5h6M273 80.5h33M238 81.5h6M271 81.5h35M238 82.5h6M269 82.5h9M294 82.5h8M303 82.5h3M238 83.5h6M267 83.5h9M296 83.5h5M303 83.5h3M238 84.5h6M265 84.5h9M297 84.5h4M303 84.5h3M238 85.5h6M264 85.5h7M297 85.5h4M304 85.5h2M238 86.5h6M263 86.5h7M298 86.5h3M304 86.5h2M10 87.5h3M238 87.5h6M262 87.5h6M298 87.5h3M304 87.5h2M10 88.5h4M238 88.5h7M261 88.5h6M298 88.5h3M304 88.5h2M10 89.5h3M238 89.5h7M260 89.5h6M299 89.5h2M303 89.5h3M238 90.5h9M257 90.5h8M299 90.5h2M303 90.5h3M239 91.5h25M299 91.5h7M240 92.5h23M299 92.5h7M243 93.5h18M299 93.5h7M247 94.5h9M300 94.5h5M300 95.5h5M301 96.5h3M251 126.5h7M249 127.5h11M301 127.5h4M248 128.5h13M300 128.5h6M248 129.5h13M299 129.5h7M248 130.5h12M298 130.5h3M304 130.5h2M249 131.5h10M298 131.5h3M305 131.5h1M252 132.5h4M298 132.5h2M305 132.5h1M297 133.5h3M305 133.5h1M297 134.5h3M305 134.5h1M298 135.5h3M305 135.5h1M282 136.5h2M298 136.5h3M304 136.5h2M280 137.5h7M299 137.5h7M0 138.5h2M279 138.5h9M299 138.5h7M0 139.5h4M278 139.5h10M300 139.5h5M0 140.5h5M278 140.5h11M301 140.5h3M3 141.5h3M278 141.5h11M4 142.5h3M278 142.5h11M4 143.5h3M278 143.5h11M4 144.5h3M279 144.5h9M4 145.5h2M279 145.5h8M2 146.5h3M281 146.5h4M0 147.5h4M0 148.5h3M21 161.5h6M15 162.5h15M13 163.5h19M12 164.5h21M12 165.5h6M27 165.5h7M11 166.5h5M28 166.5h7M11 167.5h4M28 167.5h7M260 167.5h6M10 168.5h5M29 168.5h7M259 168.5h9M10 169.5h4M29 169.5h7M258 169.5h11M9 170.5h5M30 170.5h6M258 170.5h5M266 170.5h4M9 171.5h4M30 171.5h6M258 171.5h3M267 171.5h4M8 172.5h5M30 172.5h7M257 172.5h4M268 172.5h4M7 173.5h5M31 173.5h6M257 173.5h3M269 173.5h3M7 174.5h5M31 174.5h6M257 174.5h3M269 174.5h4M6 175.5h6M31 175.5h6M257 175.5h4M269 175.5h4M7 176.5h5M30 176.5h6M258 176.5h3M268 176.5h4M8 177.5h5M30 177.5h5M259 177.5h5M266 177.5h6M9 178.5h5M29 178.5h5M260 178.5h10M10 179.5h5M28 179.5h5M263 179.5h5M11 180.5h5M27 180.5h5M12 181.5h6M27 181.5h4M12 182.5h9M25 182.5h5M13 183.5h17M14 184.5h15M15 185.5h14M15 186.5h14M14 187.5h15M14 188.5h15M14 189.5h16M13 190.5h10M25 190.5h5M13 191.5h7M26 191.5h5M13 192.5h5M27 192.5h4M12 193.5h4M27 193.5h5M12 194.5h3M28 194.5h5M12 195.5h3M29 195.5h4M11 196.5h3M29 196.5h4M11 197.5h3M29 197.5h5M11 198.5h3M29 198.5h5M10 199.5h3M29 199.5h4M9 200.5h4M29 200.5h4M8 201.5h5M29 201.5h4M7 202.5h5M29 202.5h4M0 203.5h11M29 203.5h4M0 204.5h10M29 204.5h4M0 205.5h9M29 205.5h3M0 206.5h5M29 206.5h3M29 207.5h3M29 208.5h3M29 209.5h3M28 210.5h3M28 211.5h3M28 212.5h3M28 213.5h3M27 214.5h4M27 215.5h3M300 215.5h1M27 216.5h3M295 216.5h6M27 217.5h3M292 217.5h9M26 218.5h4M291 218.5h10M26 219.5h3M290 219.5h11M25 220.5h4M290 220.5h11M24 221.5h5M289 221.5h12M24 222.5h4M289 222.5h12M23 223.5h5M289 223.5h12M22 224.5h5M288 224.5h13M22 225.5h5M288 225.5h13M21 226.5h5M288 226.5h13M20 227.5h6M288 227.5h13M19 228.5h6M287 228.5h14M18 229.5h6M287 229.5h14M17 230.5h6M287 230.5h14M15 231.5h7M286 231.5h15M13 232.5h7M286 232.5h15M11 233.5h8M285 233.5h16M10 234.5h8M285 234.5h16M10 235.5h6M284 235.5h17M9 236.5h6M283 236.5h18M9 237.5h5M282 237.5h19M8 238.5h5M281 238.5h20M7 239.5h5M280 239.5h21M6 240.5h5M280 240.5h21M3 241.5h7M279 241.5h22M0 242.5h8M279 242.5h22M0 243.5h6M279 243.5h22M279 244.5h22M279 245.5h22M279 246.5h22M279 247.5h22M279 248.5h22M279 249.5h22M280 250.5h6M293 250.5h8M294 251.5h7M295 252.5h6M296 253.5h5M296 254.5h5M297 255.5h4M297 256.5h4M297 257.5h4M297 258.5h4M297 259.5h4M298 260.5h3M298 261.5h3M298 262.5h3M298 263.5h3M298 264.5h3M298 265.5h3M298 266.5h3M298 267.5h3M298 268.5h3M298 269.5h3M298 270.5h3M298 271.5h3M298 272.5h3M298 273.5h3M298 274.5h3M298 275.5h3M298 276.5h3M298 277.5h3M297 278.5h4M297 279.5h4M297 280.5h4M297 281.5h4M297 282.5h4M297 283.5h4M296 284.5h5M295 285.5h6M295 286.5h6M293 287.5h8M292 288.5h9M290 289.5h11M290 290.5h11M289 291.5h12M289 292.5h12M288 293.5h13M288 294.5h13M288 295.5h13M288 296.5h13M288 297.5h13M288 298.5h13M288 299.5h13M288 300.5h13M288 301.5h13M288 302.5h13M288 303.5h13M288 304.5h13M288 305.5h13M288 306.5h13M288 307.5h13M287 308.5h14M287 309.5h14M287 310.5h14M287 311.5h14M287 312.5h14M287 313.5h14M287 314.5h14M270 315.5h2M287 315.5h14M269 316.5h3M287 316.5h14M269 317.5h4M287 317.5h14M269 318.5h4M287 318.5h14M268 319.5h5M287 319.5h14M268 320.5h5M288 320.5h13M269 321.5h4M288 321.5h13M269 322.5h4M288 322.5h13M269 323.5h3M288 323.5h13M270 324.5h2M288 324.5h13M288 325.5h13M288 326.5h13M288 327.5h13M287 328.5h14M287 329.5h14M287 330.5h14M287 331.5h14M287 332.5h14M287 333.5h14M287 334.5h14M287 335.5h14M287 336.5h14M287 337.5h14M287 338.5h14M287 339.5h14M287 340.5h14"/>
<path stroke="#feae33" d="M253 0.5h53M253 1.5h53M253 2.5h53M253 3.5h53M253 4.5h53M253 5.5h53M254 6.5h52M254 7.5h52M255 8.5h51M256 9.5h50M258 10.5h48M259 11.5h47M261 12.5h35M262 13.5h32M263 14.5h30M263 15.5h28M264 16.5h25M264 17.5h23M264 18.5h22M264 19.5h20M265 20.5h18M265 21.5h18M265 22.5h17M265 23.5h17M265 24.5h16M265 25.5h16M265 26.5h15M265 27.5h15M266 28.5h13M266 29.5h12M266 30.5h11M266 31.5h10M266 32.5h9M266 33.5h9M267 34.5h7M267 35.5h7M267 36.5h7M267 37.5h7M268 38.5h5M268 39.5h5M269 40.5h3M269 64.5h2M266 65.5h7M264 66.5h10M262 67.5h12M259 68.5h16M257 69.5h18M254 70.5h21M252 71.5h23M250 72.5h25M249 73.5h26M248 74.5h6M258 74.5h17M247 75.5h5M260 75.5h15M246 76.5h5M260 76.5h15M245 77.5h6M261 77.5h14M245 78.5h5M261 78.5h14M244 79.5h6M261 79.5h13M244 80.5h7M260 80.5h13M244 81.5h8M259 81.5h12M244 82.5h25M302 82.5h1M244 83.5h23M301 83.5h2M244 84.5h21M301 84.5h2M244 85.5h20M301 85.5h3M244 86.5h19M301 86.5h3M244 87.5h18M301 87.5h3M245 88.5h16M301 88.5h3M245 89.5h15M301 89.5h2M247 90.5h10M301 90.5h2M301 130.5h3M301 131.5h4M300 132.5h5M300 133.5h5M300 134.5h5M301 135.5h4M301 136.5h3M0 141.5h3M0 142.5h4M0 143.5h4M0 144.5h4M0 145.5h4M0 146.5h2M18 165.5h9M16 166.5h12M15 167.5h13M15 168.5h14M14 169.5h15M14 170.5h16M263 170.5h3M13 171.5h7M23 171.5h7M261 171.5h6M13 172.5h5M25 172.5h5M261 172.5h7M12 173.5h5M26 173.5h5M260 173.5h9M12 174.5h4M26 174.5h5M260 174.5h9M12 175.5h4M27 175.5h4M261 175.5h8M12 176.5h5M26 176.5h4M261 176.5h7M13 177.5h4M26 177.5h4M264 177.5h2M14 178.5h5M25 178.5h4M15 179.5h13M16 180.5h11M18 181.5h9M21 182.5h4M23 190.5h2M20 191.5h6M18 192.5h9M16 193.5h11M15 194.5h13M15 195.5h14M14 196.5h15M14 197.5h6M25 197.5h4M14 198.5h4M26 198.5h3M13 199.5h5M26 199.5h3M13 200.5h4M26 200.5h3M13 201.5h4M27 201.5h2M12 202.5h4M27 202.5h2M11 203.5h5M27 203.5h2M10 204.5h6M27 204.5h2M9 205.5h7M27 205.5h2M5 206.5h11M27 206.5h2M0 207.5h16M26 207.5h3M0 208.5h16M26 208.5h3M0 209.5h16M26 209.5h3M0 210.5h17M25 210.5h3M0 211.5h17M24 211.5h4M0 212.5h17M23 212.5h5M0 213.5h17M20 213.5h8M0 214.5h13M19 214.5h8M0 215.5h11M19 215.5h8M0 216.5h10M19 216.5h8M0 217.5h9M19 217.5h8M0 218.5h8M20 218.5h6M0 219.5h7M20 219.5h6M0 220.5h7M19 220.5h6M0 221.5h7M19 221.5h5M0 222.5h7M19 222.5h5M4 223.5h3M19 223.5h4M5 224.5h2M18 224.5h4M6 225.5h2M17 225.5h5M6 226.5h3M16 226.5h5M6 227.5h6M14 227.5h6M6 228.5h13M6 229.5h12M6 230.5h11M6 231.5h9M6 232.5h7M6 233.5h5M5 234.5h5M5 235.5h5M5 236.5h4M4 237.5h5M3 238.5h5M0 239.5h7M0 240.5h6M0 241.5h3"/>
<path stroke="#f56b29" d="M254 74.5h4M252 75.5h8M251 76.5h9M251 77.5h10M250 78.5h11M250 79.5h11M251 80.5h9M252 81.5h7M20 171.5h3M18 172.5h7M17 173.5h9M16 174.5h10M16 175.5h11M17 176.5h9M17 177.5h9M19 178.5h6M20 197.5h5M18 198.5h8M18 199.5h8M17 200.5h9M17 201.5h10M16 202.5h11M16 203.5h11M16 204.5h11M16 205.5h11M16 206.5h11M16 207.5h10M16 208.5h10M16 209.5h10M17 210.5h8M17 211.5h7M17 212.5h6M17 213.5h3M13 214.5h6M11 215.5h8M10 216.5h9M9 217.5h10M8 218.5h12M7 219.5h13M7 220.5h12M7 221.5h12M7 222.5h12M0 223.5h4M7 223.5h12M0 224.5h5M7 224.5h11M0 225.5h6M8 225.5h9M0 226.5h6M9 226.5h7M0 227.5h6M12 227.5h2M0 228.5h6M0 229.5h6M0 230.5h6M0 231.5h6M0 232.5h6M0 233.5h6M0 234.5h5M0 235.5h5M0 236.5h5M0 237.5h4M0 238.5h3"/></g>
<path d="M705.2 281C705.5 287 708 293 714 297C720 300 730 300.5 737.5 299.5L740 294.5L739.5 292.3C733 293.6 726 293 721 290.5C716 288 714 284 713.2 280.3L708.7 279.5Z" fill="#1b2a62"/>
<path d="M609.0 88.6L607.9 88.6L607.9 87.5L605.1 89.0L607.9 90.6L607.9 89.5L609.0 89.5ZM658.6 96.7L659.9 95.3L660.7 96.1L661.4 93.0L658.4 94.0L659.2 94.7L658.0 96.1ZM681.5 108.7L682.3 109.2L681.7 110.1L684.9 110.5L683.5 107.6L682.9 108.5L682.0 107.9ZM598.4 116.9L596.0 114.1L597.3 113.0L592.6 111.0L593.9 115.9L595.3 114.8L597.7 117.5ZM658.0 122.4L658.7 123.1L658.0 123.9L661.1 124.6L660.0 121.6L659.3 122.4L658.5 121.7ZM625.1 133.8L620.2 130.1L621.5 128.5L614.5 126.6L618.1 132.9L619.3 131.3L624.2 135.0ZM681.7 137.1L682.5 138.0L681.6 138.7L684.6 139.9L684.0 136.7L683.2 137.4L682.4 136.5ZM598.6 144.2L596.2 143.5L596.5 142.2L592.9 143.0L595.5 145.7L595.9 144.3L598.4 145.0ZM648.9 151.5L648.9 150.5L650.0 150.5L648.4 147.7L646.9 150.5L648.0 150.5L648.0 151.5ZM626.1 156.0L618.9 157.4L618.5 155.2L612.1 159.5L619.6 161.1L619.2 159.0L626.4 157.6ZM670.0 161.7L670.8 162.3L670.2 163.2L673.3 163.7L672.1 160.7L671.4 161.6L670.6 161.0ZM697.3 85.6L696.6 84.9L697.3 84.1L694.3 83.3L695.1 86.3L695.9 85.6L696.6 86.3ZM745.0 84.7L744.0 84.7L744.0 83.6L741.2 85.1L744.0 86.7L744.0 85.6L745.0 85.6ZM768.1 85.7L772.2 85.7L772.2 87.5L777.5 85.1L772.2 82.8L772.2 84.6L768.1 84.6ZM718.5 100.2L719.2 99.5L720.0 100.3L720.9 97.2L717.8 98.1L718.6 98.8L717.9 99.5ZM796.2 100.7L795.4 100.2L795.9 99.2L792.7 99.2L794.4 101.9L794.9 101.0L795.8 101.5ZM761.4 110.6L760.2 109.5L761.0 108.7L757.9 107.8L758.8 110.9L759.6 110.1L760.8 111.3ZM705.9 122.3L705.9 123.3L704.8 123.3L706.3 126.1L707.9 123.3L706.8 123.3L706.8 122.3ZM733.3 124.7L734.3 124.7L734.3 125.8L737.1 124.3L734.3 122.7L734.3 123.8L733.3 123.8ZM780.3 124.7L781.3 124.7L781.3 125.8L784.1 124.3L781.3 122.7L781.3 123.8L780.3 123.8ZM758.2 136.7L758.6 137.6L757.7 138.1L760.3 139.9L760.4 136.7L759.4 137.2L759.0 136.3ZM725.5 146.8L724.5 147.1L724.2 146.1L722.0 148.4L725.1 149.0L724.8 148.0L725.7 147.7ZM782.3 156.1L783.1 154.8L784.0 155.3L784.1 152.1L781.3 153.7L782.3 154.3L781.5 155.6ZM697.5 161.9L699.5 163.0L699.0 164.1L702.4 164.0L700.5 161.1L700.0 162.2L697.9 161.1ZM746.3 161.8L746.8 162.7L745.8 163.2L748.6 164.9L748.6 161.7L747.6 162.3L747.1 161.4ZM829.8 94.0L831.2 91.6L832.5 92.3L832.6 88.3L829.1 90.4L830.4 91.1L829.0 93.5ZM794.1 99.6L795.4 100.2L795.0 101.2L798.1 100.8L796.1 98.3L795.7 99.3L794.4 98.8ZM873.7 104.6L872.9 101.1L874.6 100.7L871.4 96.9L870.3 101.8L872.0 101.4L872.8 104.8ZM818.9 117.1L818.9 116.1L820.0 116.1L818.5 113.3L816.9 116.1L818.0 116.1L818.0 117.1ZM847.7 117.6L848.2 116.7L849.2 117.3L849.3 114.1L846.5 115.7L847.5 116.3L847.0 117.1ZM836.9 143.0L836.9 140.3L838.4 140.3L836.5 136.8L834.5 140.3L836.0 140.3L836.0 143.0ZM807.6 138.3L806.6 138.8L806.1 137.8L804.4 140.5L807.6 140.5L807.1 139.6L808.0 139.0ZM825.2 162.2L824.5 163.0L823.7 162.2L822.9 165.3L825.9 164.4L825.2 163.6L825.9 162.9ZM895.8 117.2L895.1 116.5L895.9 115.7L892.8 114.9L893.7 117.9L894.5 117.2L895.2 117.9ZM897.9 87.2L896.5 85.2L897.6 84.4L894.4 82.8L894.7 86.4L895.8 85.7L897.1 87.7ZM605.6 169.2L596.8 171.4L596.2 169.2L589.7 174.2L597.8 175.5L597.2 173.3L606.1 171.1ZM626.0 192.1L618.7 186.2L620.1 184.4L612.1 182.3L616.0 189.6L617.5 187.8L624.8 193.6ZM652.5 181.5L649.4 178.0L650.8 176.7L645.0 174.0L647.1 180.1L648.5 178.8L651.6 182.3ZM693.5 186.8L689.7 186.8L689.7 185.1L684.9 187.3L689.7 189.6L689.7 187.8L693.5 187.8ZM607.9 209.8L597.6 205.0L598.6 202.8L589.7 202.7L595.6 209.4L596.6 207.1L607.0 211.8ZM643.3 209.4L627.5 211.2L627.1 208.3L618.4 213.6L628.1 216.9L627.8 214.0L643.6 212.3ZM664.6 203.8L665.4 203.2L666.1 204.1L667.4 201.1L664.2 201.6L664.9 202.5L664.1 203.1ZM693.7 226.0L689.2 216.1L691.4 215.0L684.9 209.3L685.0 218.0L687.2 217.0L691.7 226.9ZM652.3 225.9L653.1 226.6L652.3 227.4L655.5 228.0L654.4 225.0L653.6 225.9L652.9 225.2ZM627.6 227.6L600.4 230.3L600.0 226.5L588.3 233.8L601.2 238.7L600.8 234.9L628.0 232.2ZM690.7 256.1L674.5 233.6L677.6 231.3L665.3 224.9L667.6 238.6L670.7 236.3L686.9 258.8ZM634.7 244.8L632.0 245.5L631.6 244.0L628.6 246.8L632.5 247.9L632.2 246.4L634.9 245.7ZM724.7 180.8L724.7 178.9L725.8 178.9L724.3 176.1L722.7 178.9L723.8 178.9L723.8 180.8ZM771.7 182.6L771.7 178.9L773.5 178.9L771.2 174.0L769.0 178.9L770.8 178.9L770.8 182.6ZM747.8 200.7L748.4 193.0L750.6 193.1L748.1 185.8L744.5 192.7L746.7 192.8L746.1 200.6ZM716.1 212.9L713.5 200.1L716.1 199.6L710.5 192.0L708.4 201.2L711.0 200.6L713.7 213.4ZM784.9 206.3L788.7 203.8L789.7 205.4L793.2 200.2L787.0 201.3L788.0 202.8L784.2 205.3ZM734.9 225.4L736.9 216.5L739.2 217.0L737.6 208.9L732.8 215.6L735.0 216.1L733.1 225.0ZM763.4 219.3L764.3 218.8L764.9 219.8L766.6 217.1L763.4 217.1L763.9 218.0L763.0 218.5ZM717.6 240.9L712.7 229.1L715.1 228.1L708.3 221.8L708.0 231.1L710.5 230.0L715.3 241.8ZM792.2 230.4L788.8 231.8L788.1 230.1L784.5 234.0L789.8 234.3L789.1 232.7L792.6 231.3ZM746.9 242.1L753.4 242.7L753.2 244.8L760.3 242.6L753.8 239.1L753.6 241.2L747.1 240.6ZM691.2 223.5L692.0 224.2L691.2 225.0L694.3 225.8L693.4 222.8L692.6 223.5L691.9 222.8ZM797.6 181.1L800.3 179.4L801.3 180.8L803.6 176.7L798.9 177.2L799.9 178.6L797.1 180.4ZM848.9 185.7L848.5 180.5L850.5 180.3L847.4 174.0L845.2 180.7L847.2 180.5L847.5 185.8ZM873.9 179.2L876.2 179.6L875.9 180.7L879.0 179.7L876.5 177.6L876.3 178.7L874.1 178.3ZM822.8 197.0L824.2 194.5L825.5 195.3L825.5 191.3L822.1 193.4L823.4 194.1L822.0 196.5ZM859.9 203.8L864.0 204.4L863.8 206.2L869.3 204.6L864.4 201.5L864.1 203.3L860.0 202.8ZM808.8 216.4L809.6 217.1L808.8 217.9L811.9 218.6L810.9 215.6L810.2 216.4L809.4 215.7ZM845.3 218.9L841.5 217.6L842.1 215.8L836.5 216.3L840.5 220.3L841.1 218.5L844.9 219.9ZM878.1 230.0L880.8 229.3L881.2 230.8L884.2 228.0L880.2 227.0L880.6 228.5L877.8 229.2ZM832.4 240.6L828.9 241.9L828.3 240.3L824.7 244.2L830.0 244.5L829.3 242.8L832.7 241.5ZM855.1 242.2L857.6 243.2L857.1 244.6L861.0 244.0L858.5 241.0L858.0 242.3L855.4 241.4ZM896.2 205.5L895.4 205.0L896.0 204.0L892.8 203.8L894.3 206.6L894.9 205.7L895.7 206.3ZM606.5 255.7L596.3 256.7L596.1 254.3L588.7 258.6L596.8 261.2L596.5 258.8L606.8 257.7ZM667.0 267.1L651.8 257.5L653.5 254.9L642.6 253.6L648.5 262.8L650.1 260.2L665.3 269.8ZM689.7 289.2L675.9 269.6L678.9 267.5L667.7 261.4L669.7 274.0L672.6 271.9L686.4 291.5ZM625.9 267.6L618.0 270.1L617.3 267.9L611.3 273.1L619.2 273.9L618.6 271.8L626.5 269.3ZM664.5 289.5L635.6 280.2L636.8 276.3L622.3 278.6L632.8 288.9L634.1 285.0L663.0 294.3ZM682.6 305.7L660.9 295.9L662.4 292.6L649.7 293.0L657.8 302.8L659.2 299.6L680.9 309.4ZM601.4 285.8L595.9 284.1L596.5 282.1L589.4 282.8L594.9 287.4L595.5 285.4L601.0 287.1ZM636.2 303.3L614.0 296.5L615.1 293.1L602.7 295.0L611.8 303.6L612.9 300.2L635.0 307.1ZM654.3 319.6L640.7 312.3L642.1 309.7L632.0 309.1L638.0 317.2L639.4 314.7L652.9 322.1ZM600.5 315.3L596.0 314.4L596.4 312.5L590.2 313.8L595.4 317.4L595.8 315.5L600.3 316.4ZM688.8 323.8L684.0 323.8L684.0 321.9L677.9 324.5L684.0 327.0L684.0 325.1L688.8 325.1ZM636.4 336.0L615.9 326.2L617.4 323.1L605.1 323.2L612.8 332.9L614.3 329.7L634.8 339.5ZM705.6 262.4L700.3 254.3L702.3 253.0L695.3 248.4L696.7 256.6L698.7 255.4L703.9 263.5ZM729.1 259.0L729.1 257.6L730.2 257.6L728.7 254.8L727.1 257.6L728.2 257.6L728.2 259.0ZM709.1 285.2L720.1 281.0L721.0 283.4L727.4 277.0L718.4 276.5L719.3 278.8L708.2 283.0ZM748.7 273.2L752.5 272.0L753.0 273.7L757.2 270.0L751.7 269.3L752.2 271.0L748.4 272.2ZM773.0 259.0L775.9 257.3L776.8 258.8L779.4 254.8L774.6 255.1L775.5 256.5L772.6 258.2ZM736.5 300.3L740.8 296.6L742.1 298.2L745.4 291.9L738.6 294.0L739.9 295.6L735.6 299.2ZM766.2 300.2L770.1 296.7L771.4 298.2L774.4 291.9L767.8 294.3L769.2 295.7L765.3 299.2ZM790.4 285.2L792.6 282.5L793.9 283.6L795.0 278.9L790.6 280.8L791.9 282.0L789.7 284.6ZM699.6 303.2L696.5 300.6L697.7 299.2L692.2 297.7L694.6 302.8L695.8 301.4L698.9 304.0ZM713.3 317.5L717.5 315.8L718.2 317.5L722.7 313.0L716.4 312.9L717.1 314.7L712.8 316.4ZM752.6 324.7L759.3 320.8L760.4 322.7L765.0 316.5L757.3 317.4L758.4 319.3L751.7 323.2ZM784.7 319.3L785.4 320.0L784.7 320.8L787.8 321.5L786.7 318.5L786.0 319.3L785.3 318.6ZM704.8 278.0L705.6 277.3L706.3 278.2L707.4 275.2L704.3 275.8L705.0 276.6L704.2 277.3ZM804.8 260.7L805.6 257.8L807.2 258.2L806.3 253.9L803.2 257.1L804.8 257.5L804.0 260.5ZM844.2 271.0L845.8 268.4L847.2 269.2L847.4 264.8L843.6 267.1L845.0 267.9L843.4 270.5ZM884.7 257.1L885.6 257.7L884.9 258.6L888.1 259.0L886.8 256.1L886.1 257.0L885.3 256.3ZM817.2 284.4L821.9 282.4L822.6 284.3L827.6 279.4L820.6 279.4L821.4 281.2L816.7 283.2ZM870.8 281.4L873.9 282.2L873.5 283.8L877.9 282.8L874.5 279.7L874.1 281.3L871.0 280.5ZM848.7 295.8L849.8 297.0L849.0 297.8L852.1 298.6L851.2 295.6L850.5 296.3L849.3 295.2ZM805.4 308.2L810.2 306.8L810.7 308.7L816.1 304.4L809.3 303.7L809.8 305.5L805.0 306.9ZM888.3 308.7L891.3 307.4L892.0 308.9L894.8 305.2L890.2 305.0L890.9 306.6L887.9 307.9ZM832.0 324.1L840.6 321.5L841.2 323.8L847.4 318.5L839.4 317.5L840.0 319.7L831.5 322.3ZM865.6 321.1L866.5 321.4L866.2 322.5L869.3 321.8L867.1 319.5L866.8 320.6L865.8 320.3ZM603.1 354.5L597.4 342.0L599.8 340.9L592.6 334.7L592.6 344.2L595.0 343.1L600.8 355.5ZM668.4 337.9L659.4 338.4L659.3 336.1L652.0 339.7L659.6 342.6L659.5 340.3L668.5 339.8ZM645.7 352.1L635.1 352.4L635.1 350.0L627.3 353.7L635.3 357.0L635.2 354.5L645.8 354.2ZM618.0 369.0L614.1 368.1L614.5 366.4L609.0 367.5L613.5 370.9L613.9 369.2L617.8 370.1ZM671.4 365.7L665.9 367.5L665.3 365.6L659.9 370.2L667.0 370.8L666.3 368.8L671.8 367.1ZM692.9 363.1L692.1 363.7L691.5 362.7L689.9 365.5L693.1 365.4L692.5 364.4L693.4 363.9ZM601.2 392.0L597.0 392.0L597.0 390.2L591.8 392.6L597.0 394.9L597.0 393.1L601.2 393.1ZM628.2 391.6L625.7 392.1L625.5 390.8L622.6 393.0L626.1 394.2L625.8 392.9L628.3 392.5ZM658.4 390.9L654.3 392.3L653.7 390.5L649.2 394.6L655.2 395.1L654.7 393.4L658.8 392.0ZM683.5 395.2L683.5 392.9L684.7 392.9L683.0 389.9L681.4 392.9L682.6 392.9L682.6 395.2ZM692.8 388.8L692.0 389.4L691.4 388.5L689.9 391.3L693.1 391.0L692.5 390.1L693.3 389.6ZM624.5 418.7L620.7 419.8L620.2 418.1L616.0 421.8L621.5 422.6L621.0 420.8L624.8 419.7ZM596.3 419.5L594.3 420.2L593.9 419.2L591.8 421.5L594.9 422.1L594.6 421.0L596.6 420.4ZM677.4 421.0L679.5 419.0L680.6 420.1L681.8 416.0L677.7 417.2L678.8 418.3L676.8 420.4ZM644.8 421.0L645.8 421.1L645.6 422.2L648.6 421.0L646.0 419.2L645.9 420.2L644.9 420.1ZM635.7 336.9L634.7 336.5L635.2 335.5L632.0 335.7L633.9 338.3L634.4 337.3L635.3 337.7ZM710.2 338.9L706.6 338.9L706.6 337.1L702.1 339.3L706.6 341.6L706.6 339.8L710.2 339.8ZM737.5 338.9L734.8 339.2L734.6 337.8L731.3 340.1L735.1 341.6L734.9 340.1L737.7 339.8ZM771.8 343.2L769.4 344.3L768.8 343.0L766.6 346.1L770.4 346.4L769.8 345.1L772.2 344.0ZM698.3 361.6L695.5 362.9L694.9 361.4L692.2 364.9L696.6 365.2L695.9 363.7L698.7 362.4ZM727.4 360.3L723.5 362.9L722.4 361.3L718.8 366.7L725.2 365.5L724.2 363.9L728.1 361.3ZM759.0 364.7L757.9 368.3L756.2 367.7L756.8 373.0L760.5 369.1L758.8 368.6L760.0 365.0ZM785.0 368.0L785.7 368.7L785.0 369.5L788.1 370.2L787.1 367.2L786.3 368.0L785.6 367.3ZM715.0 385.9L712.0 387.5L711.2 386.0L708.3 389.9L713.2 389.8L712.4 388.3L715.4 386.7ZM744.4 387.2L745.1 392.8L743.0 393.1L746.5 399.3L748.5 392.4L746.5 392.7L745.8 387.0ZM775.5 390.0L774.5 392.7L773.1 392.1L773.6 396.2L776.8 393.6L775.3 393.0L776.4 390.4ZM703.0 414.9L703.7 415.6L702.8 416.4L705.8 417.4L705.2 414.3L704.3 415.0L703.7 414.3ZM731.5 416.3L732.4 416.9L731.8 417.8L734.9 418.1L733.5 415.2L732.9 416.1L732.0 415.6ZM762.5 414.9L762.5 415.9L761.4 415.9L763.0 418.7L764.5 415.9L763.4 415.9L763.4 414.9ZM789.2 415.9L790.0 416.5L789.4 417.4L792.5 417.8L791.2 414.9L790.5 415.7L789.7 415.2ZM789.9 344.4L797.9 345.3L797.7 347.5L805.2 345.1L798.3 341.3L798.1 343.5L790.1 342.7ZM823.1 344.5L826.7 345.2L826.3 346.9L831.3 345.6L827.2 342.5L826.8 344.3L823.3 343.6ZM848.9 345.3L856.1 345.9L855.9 348.0L863.1 345.6L856.4 342.1L856.2 344.3L849.1 343.7ZM884.5 347.1L885.2 346.4L886.0 347.2L887.0 344.2L883.9 344.9L884.6 345.7L883.9 346.4ZM812.3 368.4L814.8 369.7L814.1 371.0L818.2 371.0L815.9 367.5L815.2 368.9L812.7 367.6ZM842.4 367.9L843.3 369.2L842.5 369.8L845.4 371.1L844.9 368.0L844.0 368.6L843.1 367.4ZM870.5 370.3L872.4 370.6L872.3 371.7L875.3 370.5L872.7 368.6L872.6 369.7L870.6 369.4ZM796.2 391.0L803.1 394.4L802.1 396.4L809.9 396.8L804.8 390.9L803.9 392.9L796.9 389.4ZM828.6 393.8L831.3 394.3L831.0 395.8L834.9 394.6L831.8 391.9L831.5 393.4L828.7 392.9ZM856.8 395.0L860.3 395.0L860.3 396.8L864.6 394.6L860.3 392.4L860.3 394.1L856.8 394.1ZM886.7 396.1L889.2 395.4L889.6 396.8L892.3 394.1L888.6 393.2L889.0 394.6L886.4 395.3ZM816.1 418.6L819.9 418.6L819.9 420.3L824.7 418.1L819.9 415.8L819.9 417.6L816.1 417.6ZM843.8 418.6L848.0 418.6L848.0 420.4L853.2 418.1L848.0 415.7L848.0 417.5L843.8 417.5ZM874.8 417.9L875.8 418.2L875.4 419.3L878.6 418.7L876.4 416.3L876.1 417.4L875.1 417.1Z" fill="#000" stroke="#fff" stroke-width="1.1" stroke-linejoin="miter" paint-order="stroke"/>
<rect x="598" y="90" width="38" height="35.5" fill="#fff"/>
<rect x="849.8" y="119.8" width="46.5" height="47" fill="#fff"/>
<path d="M860.0 151.9L876.7 151.9L876.7 154.9L886.2 150.4L876.7 145.9L876.7 148.9L860.0 148.9Z" fill="#000"/>
<text x="604.6" y="113" font-size="21" font-family="Liberation Sans, sans-serif">(b)</text>
<text x="852.4" y="136.9" font-size="14" font-family="Liberation Sans, sans-serif">2 m s</text><text x="887.2" y="130.6" font-size="8.5" font-family="Liberation Sans, sans-serif">-1</text></g>
<g><path d="M630.5 422.3v-8.3M690.2 422.3v-8.3M749.9 422.3v-8.3M809.6 422.3v-8.3M869.3 422.3v-8.3M590.6 125.6h8M590.6 185.2h8M590.6 244.9h8M590.6 304.6h8M590.6 364.2h8" stroke="#222" stroke-width="0.9" fill="none"/>
<rect x="590.6" y="81.5" width="306.0" height="340.8" fill="none" stroke="#000" stroke-width="1.3"/>
<text x="630.6" y="444.8" text-anchor="middle" font-size="15.5" font-family="Liberation Sans, sans-serif">118°40<tspan dx="1.6">'</tspan><tspan dx="1.8">E</tspan></text>
<text x="749.9" y="444.8" text-anchor="middle" font-size="15.5" font-family="Liberation Sans, sans-serif">119°20<tspan dx="1.6">'</tspan><tspan dx="1.8">E</tspan></text>
<text x="869.2" y="444.8" text-anchor="middle" font-size="15.5" font-family="Liberation Sans, sans-serif">120°E</text>
<text x="580.8" y="130.9" text-anchor="end" font-size="15.5" font-family="Liberation Sans, sans-serif">33°40<tspan dx="1.9">'</tspan><tspan dx="2.2">N</tspan></text>
<text x="580.8" y="190.5" text-anchor="end" font-size="15.5" font-family="Liberation Sans, sans-serif">33°20<tspan dx="1.9">'</tspan><tspan dx="2.2">N</tspan></text>
<text x="580.8" y="250.2" text-anchor="end" font-size="15.5" font-family="Liberation Sans, sans-serif">33°N</text>
<text x="580.8" y="309.9" text-anchor="end" font-size="15.5" font-family="Liberation Sans, sans-serif">32°40<tspan dx="1.9">'</tspan><tspan dx="2.2">N</tspan></text>
<text x="580.8" y="369.5" text-anchor="end" font-size="15.5" font-family="Liberation Sans, sans-serif">32°20<tspan dx="1.9">'</tspan><tspan dx="2.2">N</tspan></text></g>
<g><rect x="595.30" y="469.3" width="24.96" height="30.7" fill="#1b2a62"/>
<rect x="619.96" y="469.3" width="24.96" height="30.7" fill="#2459a8"/>
<rect x="644.62" y="469.3" width="24.96" height="30.7" fill="#57a4d8"/>
<rect x="669.28" y="469.3" width="24.96" height="30.7" fill="#a0dcf7"/>
<rect x="693.94" y="469.3" width="24.96" height="30.7" fill="#d6eff9"/>
<rect x="718.60" y="469.3" width="24.96" height="30.7" fill="#ffffff"/>
<rect x="743.26" y="469.3" width="24.96" height="30.7" fill="#ffffff"/>
<rect x="767.92" y="469.3" width="24.96" height="30.7" fill="#fdeb98"/>
<rect x="792.58" y="469.3" width="24.96" height="30.7" fill="#feae33"/>
<rect x="817.24" y="469.3" width="24.96" height="30.7" fill="#f56b29"/>
<rect x="841.90" y="469.3" width="24.96" height="30.7" fill="#d41f2a"/>
<rect x="866.56" y="469.3" width="24.96" height="30.7" fill="#90141c"/>
<rect x="595.3" y="469.3" width="295.92" height="30.7" fill="none" stroke="#8a8a8a" stroke-width="1"/>
<path d="M619.96 469.3V500.0M644.62 469.3V500.0M669.28 469.3V500.0M693.94 469.3V500.0M718.60 469.3V500.0M743.26 469.3V500.0M767.92 469.3V500.0M792.58 469.3V500.0M817.24 469.3V500.0M841.90 469.3V500.0M866.56 469.3V500.0" stroke="#111" stroke-width="0.8" fill="none"/>
<text x="644.6" y="521.6" text-anchor="middle" font-size="16.5" letter-spacing="0.5" font-family="Liberation Sans, sans-serif">-1.5</text>
<text x="693.9" y="521.6" text-anchor="middle" font-size="16.5" letter-spacing="0.5" font-family="Liberation Sans, sans-serif">-0.5</text>
<text x="743.3" y="521.6" text-anchor="middle" font-size="16.5" letter-spacing="0.5" font-family="Liberation Sans, sans-serif">0</text>
<text x="792.6" y="521.6" text-anchor="middle" font-size="16.5" letter-spacing="0.5" font-family="Liberation Sans, sans-serif">0.25</text>
<text x="841.9" y="521.6" text-anchor="middle" font-size="16.5" letter-spacing="0.5" font-family="Liberation Sans, sans-serif">0.75</text></g>
</svg></body></html>
